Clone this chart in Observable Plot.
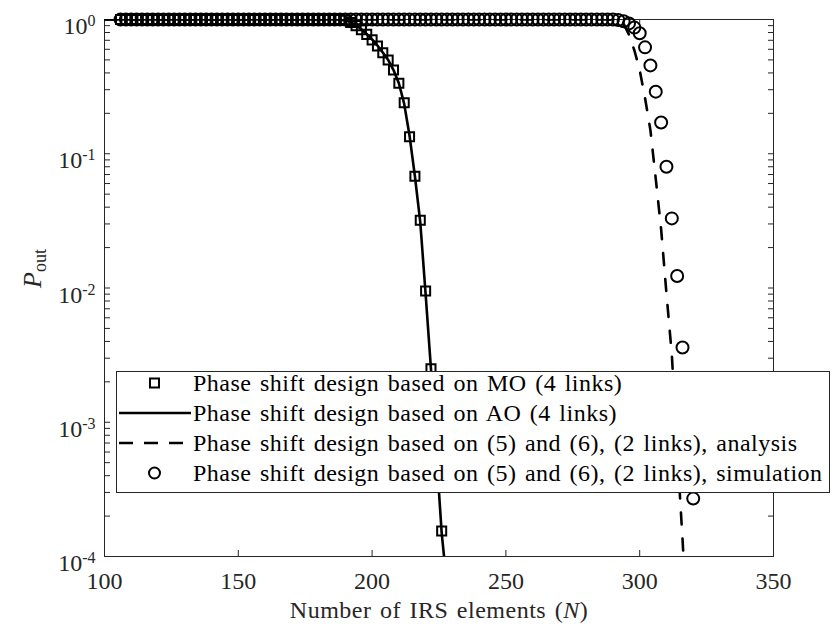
<!DOCTYPE html>
<html>
<head>
<meta charset="utf-8">
<script src="https://cdn.jsdelivr.net/npm/d3@7"></script>
<script src="https://cdn.jsdelivr.net/npm/@observablehq/plot@0.6"></script>
<style>
  html, body { margin: 0; padding: 0; background: #fff; }
  #wrap { position: relative; width: 832px; height: 633px; overflow: hidden; }
  #legend {
    position: absolute; left: 116px; top: 371px; width: 714px; height: 122px;
    box-sizing: border-box; border: 1px solid #262626; background: #fff;
    font-family: "Liberation Serif", "Times New Roman", serif; font-size: 24px; color: #000;
    letter-spacing: 0.5px; word-spacing: 2px; overflow: hidden;
  }
  #rows { position: relative; top: -4px; }
  .row { height: 30px; display: flex; align-items: center; white-space: nowrap; }
  .row svg { flex: none; margin-left: 1px; margin-right: 1px; }
</style>
</head>
<body>
<div id="wrap"><div id="legend"><div id="rows"></div></div></div>
<script>
// ---------- axis ticks ----------
const xTicks = [100, 150, 200, 250, 300, 350];
const xTickLabels = ["100", "150", "200", "250", "300", "350"];
const yMajor = [1, 0.1, 0.01, 0.001, 0.0001];
const yExponents = ["0", "-1", "-2", "-3", "-4"];
const yMinor = [
  0.0002, 0.0003, 0.0004, 0.0005, 0.0006, 0.0007, 0.0008, 0.0009,
  0.002, 0.003, 0.004, 0.005, 0.006, 0.007, 0.008, 0.009,
  0.02, 0.03, 0.04, 0.05, 0.06, 0.07, 0.08, 0.09,
  0.2, 0.3, 0.4, 0.5, 0.6, 0.7, 0.8, 0.9
];
const xTitleParts = ["Number of IRS elements (", "N", ")"];
const yTitleParts = ["P", "out"];

// ---------- series ----------
// MO (4 links), squares
const moN = [
  106, 108, 110, 112, 114, 116, 118, 120, 122, 124, 126, 128, 130, 132, 134, 136, 138, 140, 142, 144,
  146, 148, 150, 152, 154, 156, 158, 160, 162, 164, 166, 168, 170, 172, 174, 176, 178, 180, 182, 184,
  186, 188, 190, 192, 194, 196, 198, 200, 202, 204, 206, 208, 210, 212, 214, 216, 218, 220, 222, 224, 226
];
const moP = [
  1, 1, 1, 1, 1, 1, 1, 1, 1, 1, 1, 1, 1, 1, 1, 1, 1, 1, 1, 1,
  1, 1, 1, 1, 1, 1, 1, 1, 1, 1, 1, 1, 1, 1, 1, 1, 1, 1, 1, 1,
  1, 1, 0.985, 0.95, 0.9, 0.84, 0.775, 0.705, 0.635, 0.565, 0.5, 0.42, 0.335, 0.24, 0.134, 0.068,
  0.032, 0.0095, 0.0025, 0.0006, 0.000155
];
// AO (4 links), solid line
const aoN = [100, 186, 188, 190, 192, 194, 196, 198, 200, 202, 204, 206, 208, 210, 212, 214, 216, 218, 220, 222, 224, 226, 228];
const aoP = [1, 1, 0.997, 0.985, 0.955, 0.905, 0.845, 0.78, 0.71, 0.64, 0.568, 0.5, 0.42, 0.335, 0.235, 0.136, 0.068, 0.031, 0.009, 0.0025, 0.0006, 0.00015, 0.00006];
// (5) and (6), 2 links, analysis, dashed line
const anN = [100, 288, 290, 292, 294, 296, 298, 300, 302, 304, 306, 308, 310, 312, 314, 316, 318];
const anP = [1, 1, 0.997, 0.985, 0.93, 0.77, 0.59, 0.42, 0.26, 0.15, 0.065, 0.0275, 0.0091, 0.0032, 0.00063, 0.000135, 0.000025];
// (5) and (6), 2 links, simulation, circles
const simN = [
  106, 108, 110, 112, 114, 116, 118, 120, 122, 124, 126, 128, 130, 132, 134, 136, 138, 140, 142, 144,
  146, 148, 150, 152, 154, 156, 158, 160, 162, 164, 166, 168, 170, 172, 174, 176, 178, 180, 182, 184,
  186, 188, 190, 192, 194, 196, 198, 200, 202, 204, 206, 208, 210, 212, 214, 216, 218, 220, 222, 224,
  226, 228, 230, 232, 234, 236, 238, 240, 242, 244, 246, 248, 250, 252, 254, 256, 258, 260, 262, 264,
  266, 268, 270, 272, 274, 276, 278, 280, 282, 284, 286, 288, 290, 292, 294, 296, 298, 300, 302, 304,
  306, 308, 310, 312, 314, 316, 318, 320
];
const simP = [
  1, 1, 1, 1, 1, 1, 1, 1, 1, 1, 1, 1, 1, 1, 1, 1, 1, 1, 1, 1,
  1, 1, 1, 1, 1, 1, 1, 1, 1, 1, 1, 1, 1, 1, 1, 1, 1, 1, 1, 1,
  1, 1, 1, 1, 1, 1, 1, 1, 1, 1, 1, 1, 1, 1, 1, 1, 1, 1, 1, 1,
  1, 1, 1, 1, 1, 1, 1, 1, 1, 1, 1, 1, 1, 1, 1, 1, 1, 1, 1, 1,
  1, 1, 1, 1, 1, 1, 1, 1, 1, 1, 1, 1, 1, 0.99, 0.97, 0.935, 0.87, 0.79, 0.62, 0.455,
  0.29, 0.171, 0.08, 0.033, 0.0123, 0.0036, 0.0011, 0.00027
];

const legendLabels = [
  "Phase shift design based on MO (4 links)",
  "Phase shift design based on AO (4 links)",
  "Phase shift design based on (5) and (6), (2 links), analysis",
  "Phase shift design based on (5) and (6), (2 links), simulation"
];

const zip = (N, P) => N.map((n, i) => ({n, p: P[i]}));
const mo = zip(moN, moP), ao = zip(aoN, aoP), an = zip(anN, anP), sim = zip(simN, simP);

const axisColor = "#262626";
const font = "'Liberation Serif', 'Times New Roman', serif";
const tickLen = -6;
const allY = yMajor.concat(yMinor);

const chart = Plot.plot({
  width: 832,
  height: 633,
  marginLeft: 104,
  marginRight: 59,
  marginTop: 19,
  marginBottom: 77,
  style: {fontFamily: font, fontSize: "24px", color: axisColor, background: "white", overflow: "visible"},
  x: {domain: [100, 350]},
  y: {type: "log", domain: [0.0001, 1]},
  marks: [
    Plot.frame({stroke: axisColor, strokeWidth: 1}),
    // inward ticks on all four sides
    Plot.axisX(xTicks, {anchor: "bottom", tickSize: tickLen, tickFormat: () => "", label: null, stroke: axisColor}),
    Plot.axisX(xTicks, {anchor: "top", tickSize: tickLen, tickFormat: () => "", label: null, stroke: axisColor}),
    Plot.axisY(allY, {anchor: "left", tickSize: tickLen, tickFormat: () => "", label: null, stroke: axisColor}),
    Plot.axisY(allY, {anchor: "right", tickSize: tickLen, tickFormat: () => "", label: null, stroke: axisColor}),
    // tick labels
    Plot.axisX(xTicks, {anchor: "bottom", tickSize: 0, tickPadding: 15, tickFormat: d => xTickLabels[xTicks.indexOf(d)], label: null, fontSize: 24, fill: axisColor}),
    Plot.text(yMajor, {y: d => d, frameAnchor: "left", dx: -9, dy: 7, textAnchor: "end", text: d => yExponents[yMajor.indexOf(d)], fontSize: 24, fill: axisColor}),
    // data
    Plot.dot(mo, {x: "n", y: "p", symbol: "square", r: 5.1, stroke: "black", strokeWidth: 2, fill: "none"}),
    Plot.line(ao, {x: "n", y: "p", stroke: "black", strokeWidth: 2.6, clip: true}),
    Plot.line(an, {x: "n", y: "p", stroke: "black", strokeWidth: 2.6, strokeDasharray: "12,14", clip: true}),
    Plot.dot(sim, {x: "n", y: "p", symbol: "circle", r: 6, stroke: "black", strokeWidth: 2, fill: "none"}),
    // axis titles
    Plot.text([xTitleParts.join("")], {frameAnchor: "bottom", dy: 61, text: d => d, fontSize: 24, fill: axisColor}),
    Plot.text([yTitleParts.join("")], {frameAnchor: "left", dx: -72, rotate: -90, text: d => d, fontSize: 26, fill: axisColor})
  ]
});

const NS = "http://www.w3.org/2000/svg";
function tspan(txt, attrs) {
  const t = document.createElementNS(NS, "tspan");
  t.textContent = txt;
  for (const k in attrs) t.setAttribute(k, attrs[k]);
  return t;
}
chart.querySelectorAll("text").forEach(t => {
  const s = t.textContent;
  if (yExponents.includes(s)) {
    // y tick labels as 10^k
    t.textContent = "";
    t.append(tspan("10", {}), tspan(s, {dy: "-0.5em", "font-size": "16px"}));
  } else if (s === xTitleParts.join("")) {
    t.textContent = "";
    t.setAttribute("letter-spacing", "0.5");
    t.setAttribute("word-spacing", "2");
    t.append(tspan(xTitleParts[0], {}), tspan(xTitleParts[1], {"font-style": "italic"}), tspan(xTitleParts[2], {}));
  } else if (s === yTitleParts.join("")) {
    t.textContent = "";
    t.append(tspan(yTitleParts[0], {"font-style": "italic"}), tspan(yTitleParts[1], {dy: "0.3em", "font-size": "18px"}));
  }
});

document.getElementById("wrap").prepend(chart);

// legend
const rows = document.getElementById("rows");
const symbols = [
  '<rect x="32" y="10.5" width="9" height="9" fill="none" stroke="black" stroke-width="2"/>',
  '<line x1="1" y1="15" x2="73" y2="15" stroke="black" stroke-width="2.6"/>',
  '<line x1="1" y1="15" x2="73" y2="15" stroke="black" stroke-width="2.6" stroke-dasharray="14,11"/>',
  '<circle cx="36.5" cy="15" r="5.5" fill="none" stroke="black" stroke-width="2"/>'
];
legendLabels.forEach((lab, i) => {
  const row = document.createElement("div");
  row.className = "row";
  row.innerHTML = `<svg width="74" height="30">${symbols[i]}</svg><span>${lab}</span>`;
  rows.appendChild(row);
});
</script>
</body>
</html>
